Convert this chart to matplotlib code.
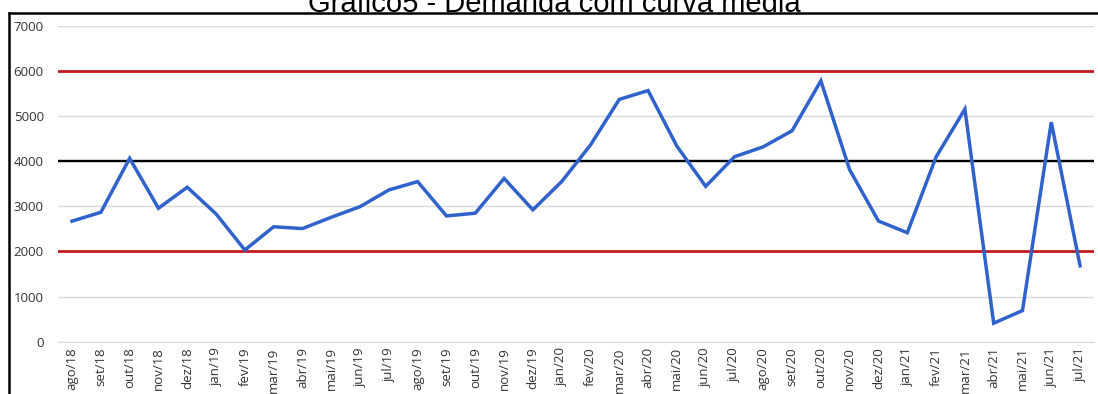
import matplotlib.pyplot as plt
from matplotlib.lines import Line2D

# Demanda mensal (ago/18 a jul/21)
meses = ['ago/18', 'set/18', 'out/18', 'nov/18', 'dez/18',
         'jan/19', 'fev/19', 'mar/19', 'abr/19', 'mai/19', 'jun/19',
         'jul/19', 'ago/19', 'set/19', 'out/19', 'nov/19', 'dez/19',
         'jan/20', 'fev/20', 'mar/20', 'abr/20', 'mai/20', 'jun/20',
         'jul/20', 'ago/20', 'set/20', 'out/20', 'nov/20', 'dez/20',
         'jan/21', 'fev/21', 'mar/21', 'abr/21', 'mai/21', 'jun/21', 'jul/21']
demanda = [2670, 2865, 4060, 2955, 3420,
           2830, 2030, 2545, 2505, 2755, 2990,
           3360, 3545, 2785, 2845, 3615, 2920,
           3545, 4355, 5365, 5560, 4330, 3440,
           4095, 4315, 4670, 5775, 3805, 2672,
           2413, 4090, 5150, 410, 690, 4860, 1680]

media = 4000
limite_inf = 2000
limite_sup = 6000

fig = plt.figure(figsize=(10.98, 3.94), dpi=100)
ax = fig.add_axes([0.0525, 0.1327, 0.9443, 0.8025])

x = list(range(len(meses)))
ax.plot(x, demanda, color='#2F62CA', lw=2.5, solid_joinstyle='miter', zorder=5)
ax.axhline(limite_sup, color='#C41A1F', lw=2, zorder=3)
ax.axhline(limite_inf, color='#C41A1F', lw=2, zorder=3)
ax.axhline(media, color='black', lw=1.7, zorder=3)

ax.set_xlim(-0.5, len(meses) - 0.5)
ax.set_ylim(0, 7000)
ax.set_yticks(range(0, 7001, 1000))
ax.grid(axis='y', color='#D9D9D9', lw=1)
ax.set_axisbelow(True)
for s in ['top', 'right', 'left']:
    ax.spines[s].set_visible(False)
ax.spines['bottom'].set_color('#D9D9D9')

ax.set_xticks(x)
ax.set_xticklabels(meses, rotation=90, fontsize=9.5, color='#333333',
                   family='Open Sans')
for lbl in ax.get_yticklabels():
    lbl.set_family('Open Sans')
ax.tick_params(axis='y', labelsize=9.5, labelcolor='#333333', length=0, pad=10)
ax.tick_params(axis='x', length=0, pad=4)

# moldura do gráfico
fig.add_artist(Line2D([9 / 1098, 1], [1 - 13 / 394, 1 - 13 / 394],
                      transform=fig.transFigure, color='black', lw=1.8))
fig.add_artist(Line2D([9 / 1098, 9 / 1098], [0, 1 - 13 / 394],
                      transform=fig.transFigure, color='black', lw=1.8))

fig.text(554 / 1098, 1 - 12 / 394, 'Gráfico5 - Demanda com curva média',
         ha='center', va='baseline', fontsize=21, family='Liberation Sans')

fig.savefig('out.png', dpi=100, facecolor='white')
